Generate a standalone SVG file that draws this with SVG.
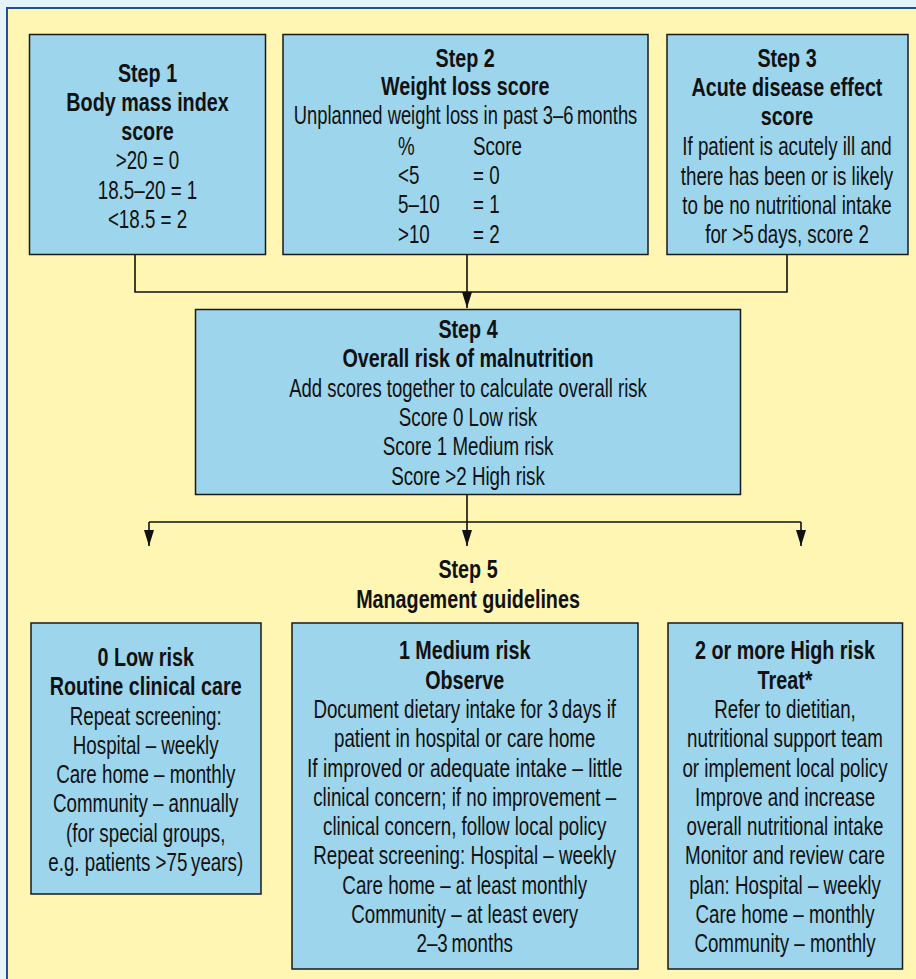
<svg xmlns="http://www.w3.org/2000/svg" width="916" height="979" viewBox="0 0 916 979">
<style>
.top{fill:#e4f3fc}
.panel{fill:#fff6b4;stroke:#24508f;stroke-width:2}
.box{fill:#9dd5ec;stroke:#1a1a1a;stroke-width:1.5}
.t{font-family:"Liberation Sans",Arial,sans-serif;font-size:25px;fill:#111;text-anchor:middle}
.b{font-weight:bold}
.s{text-anchor:start}
.conn{stroke:#111;stroke-width:1.6;fill:none}
</style>
<defs>
<marker id="ah" viewBox="0 0 16 10" refX="16" refY="5" markerWidth="16" markerHeight="10" markerUnits="userSpaceOnUse" orient="auto">
<path d="M0,0 L16,5 L0,10 z" fill="#111"/>
</marker>
</defs>
<rect class="top" x="0" y="0" width="916" height="979"/>
<rect class="panel" x="7" y="8" width="920" height="990"/>

<g id="connectors">
<path class="conn" d="M135,254 V292 H787 V254"/>
<path class="conn" d="M467,254 V308" marker-end="url(#ah)"/>
<path class="conn" d="M467,494 V546" marker-end="url(#ah)"/>
<path class="conn" d="M149,522 H801"/>
<path class="conn" d="M149,522 V546" marker-end="url(#ah)"/>
<path class="conn" d="M801,522 V546" marker-end="url(#ah)"/>
</g>

<g id="step1">
<rect class="box" x="29.5" y="34.5" width="236" height="220"/>
<text class="t b" transform="translate(147.5 81.5) scale(0.79 1)">Step 1</text>
<text class="t b" transform="translate(147.5 110.8) scale(0.79 1)">Body mass index</text>
<text class="t b" transform="translate(147.5 140) scale(0.79 1)">score</text>
<text class="t" transform="translate(147.5 169.3) scale(0.75 1)">&gt;20 = 0</text>
<text class="t" transform="translate(147.5 198.6) scale(0.75 1)">18.5–20 = 1</text>
<text class="t" transform="translate(147.5 228) scale(0.75 1)">&lt;18.5 = 2</text>
</g>

<g id="step2">
<rect class="box" x="283" y="34.5" width="365" height="220"/>
<text class="t b" transform="translate(465.2 66.7) scale(0.79 1)">Step 2</text>
<text class="t b" transform="translate(465.2 95) scale(0.79 1)">Weight loss score</text>
<text class="t" transform="translate(465.5 123.5) scale(0.735 1)">Unplanned weight loss in past 3–6&#8201;months</text>
<text class="t s" transform="translate(398 154.5) scale(0.75 1)">%</text>
<text class="t s" transform="translate(473 154.5) scale(0.75 1)">Score</text>
<text class="t s" transform="translate(398 184) scale(0.75 1)">&lt;5</text>
<text class="t s" transform="translate(473 184) scale(0.75 1)">= 0</text>
<text class="t s" transform="translate(398 213) scale(0.75 1)">5–10</text>
<text class="t s" transform="translate(473 213) scale(0.75 1)">= 1</text>
<text class="t s" transform="translate(398 242.5) scale(0.75 1)">&gt;10</text>
<text class="t s" transform="translate(473 242.5) scale(0.75 1)">= 2</text>
</g>

<g id="step3">
<rect class="box" x="667" y="34.5" width="241" height="220"/>
<text class="t b" transform="translate(787 66.7) scale(0.79 1)">Step 3</text>
<text class="t b" transform="translate(787 96) scale(0.79 1)">Acute disease effect</text>
<text class="t b" transform="translate(787 124.5) scale(0.79 1)">score</text>
<text class="t" transform="translate(787 155) scale(0.75 1)">If patient is acutely ill and</text>
<text class="t" transform="translate(787 184.5) scale(0.75 1)">there has been or is likely</text>
<text class="t" transform="translate(787 213.5) scale(0.75 1)">to be no nutritional intake</text>
<text class="t" transform="translate(787 242.5) scale(0.75 1)">for &gt;5&#8201;days, score 2</text>
</g>

<g id="step4">
<rect class="box" x="195.5" y="309.5" width="545" height="185"/>
<text class="t b" transform="translate(468 338) scale(0.79 1)">Step 4</text>
<text class="t b" transform="translate(468 367.3) scale(0.79 1)">Overall risk of malnutrition</text>
<text class="t" transform="translate(468 396.6) scale(0.74 1)">Add scores together to calculate overall risk</text>
<text class="t" transform="translate(468 425.9) scale(0.75 1)">Score 0 Low risk</text>
<text class="t" transform="translate(468 455.2) scale(0.75 1)">Score 1 Medium risk</text>
<text class="t" transform="translate(468 484.5) scale(0.75 1)">Score &gt;2 High risk</text>
</g>

<g id="step5-label">
<text class="t b" transform="translate(468 578) scale(0.79 1)">Step 5</text>
<text class="t b" transform="translate(468 607.5) scale(0.79 1)">Management guidelines</text>
</g>

<g id="low-risk">
<rect class="box" x="31" y="623" width="230" height="271"/>
<text class="t b" transform="translate(145.7 666) scale(0.79 1)">0 Low risk</text>
<text class="t b" transform="translate(145.7 695.2) scale(0.79 1)">Routine clinical care</text>
<text class="t" transform="translate(145.7 724.5) scale(0.75 1)">Repeat screening:</text>
<text class="t" transform="translate(145.7 753.6) scale(0.75 1)">Hospital – weekly</text>
<text class="t" transform="translate(145.7 783) scale(0.75 1)">Care home – monthly</text>
<text class="t" transform="translate(145.7 812) scale(0.75 1)">Community – annually</text>
<text class="t" transform="translate(145.7 841.5) scale(0.75 1)">(for special groups,</text>
<text class="t" transform="translate(145.7 870.7) scale(0.75 1)">e.g. patients &gt;75&#8201;years)</text>
</g>

<g id="medium-risk">
<rect class="box" x="292" y="623" width="346" height="346"/>
<text class="t b" transform="translate(464.7 659.3) scale(0.79 1)">1 Medium risk</text>
<text class="t b" transform="translate(464.7 688.5) scale(0.79 1)">Observe</text>
<text class="t" transform="translate(464.7 718) scale(0.75 1)">Document dietary intake for 3&#8201;days if</text>
<text class="t" transform="translate(464.7 747) scale(0.75 1)">patient in hospital or care home</text>
<text class="t" transform="translate(464.7 776.5) scale(0.77 1)">If improved or adequate intake – little</text>
<text class="t" transform="translate(464.7 805.5) scale(0.75 1)">clinical concern; if no improvement –</text>
<text class="t" transform="translate(464.7 835) scale(0.75 1)">clinical concern, follow local policy</text>
<text class="t" transform="translate(464.7 864.3) scale(0.75 1)">Repeat screening: Hospital – weekly</text>
<text class="t" transform="translate(464.7 893.5) scale(0.75 1)">Care home – at least monthly</text>
<text class="t" transform="translate(464.7 923) scale(0.75 1)">Community – at least every</text>
<text class="t" transform="translate(464.7 952.3) scale(0.75 1)">2–3&#8201;months</text>
</g>

<g id="high-risk">
<rect class="box" x="668" y="623" width="234.5" height="346"/>
<text class="t b" transform="translate(785 659.3) scale(0.79 1)">2 or more High risk</text>
<text class="t b" transform="translate(785 688.5) scale(0.79 1)">Treat*</text>
<text class="t" transform="translate(785 718) scale(0.75 1)">Refer to dietitian,</text>
<text class="t" transform="translate(785 747) scale(0.75 1)">nutritional support team</text>
<text class="t" transform="translate(785 776.5) scale(0.75 1)">or implement local policy</text>
<text class="t" transform="translate(785 805.5) scale(0.75 1)">Improve and increase</text>
<text class="t" transform="translate(785 835) scale(0.75 1)">overall nutritional intake</text>
<text class="t" transform="translate(785 864.3) scale(0.75 1)">Monitor and review care</text>
<text class="t" transform="translate(785 893.5) scale(0.75 1)">plan: Hospital – weekly</text>
<text class="t" transform="translate(785 923) scale(0.75 1)">Care home – monthly</text>
<text class="t" transform="translate(785 952.3) scale(0.75 1)">Community – monthly</text>
</g>
</svg>
